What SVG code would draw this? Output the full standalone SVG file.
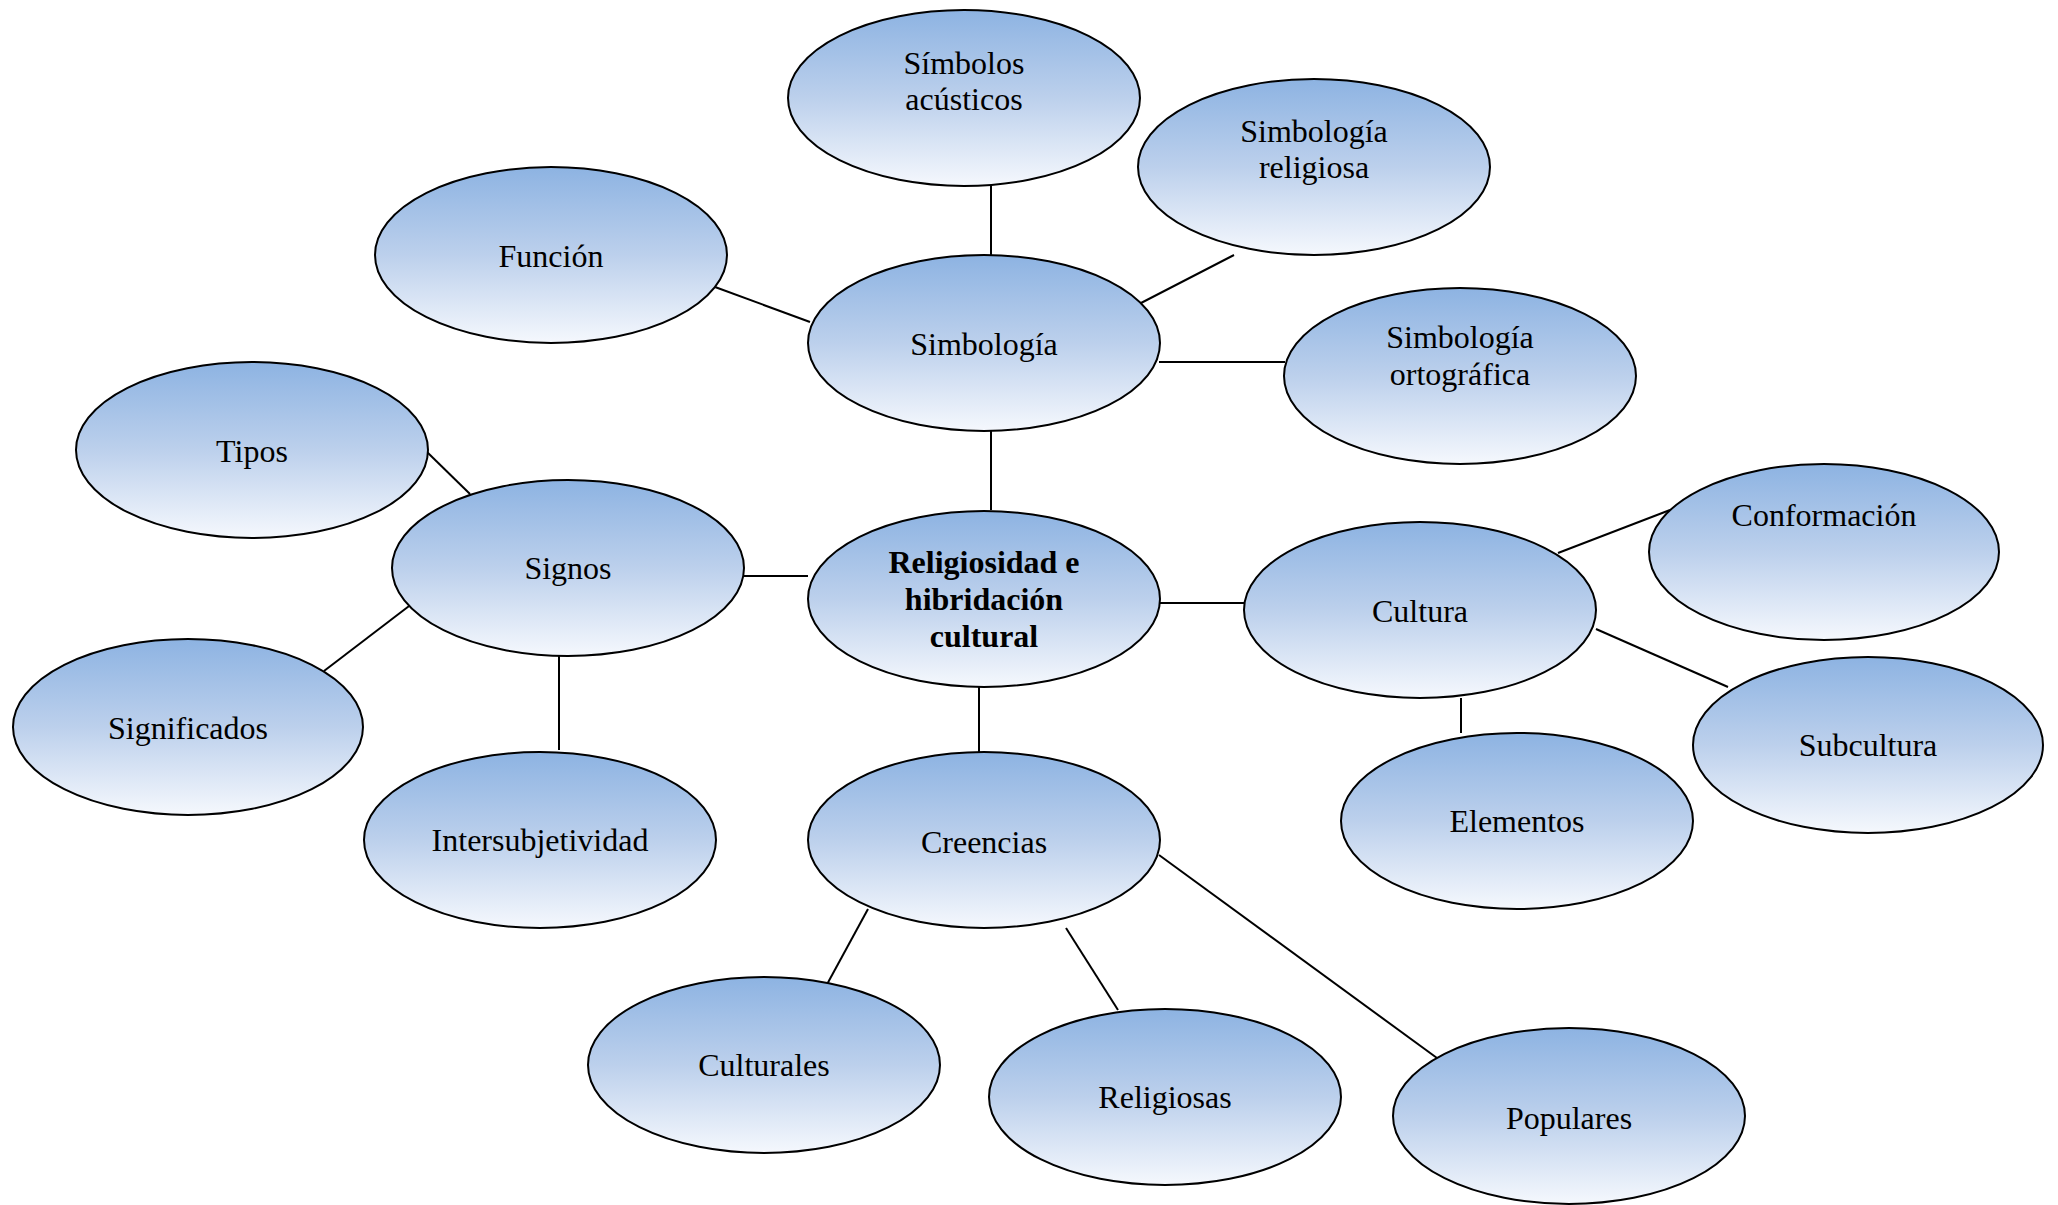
<svg xmlns="http://www.w3.org/2000/svg" width="2058" height="1205" viewBox="0 0 2058 1205">
<defs>
<linearGradient id="g" x1="0" y1="0" x2="0" y2="1">
<stop offset="0" stop-color="#8DB3E2"/>
<stop offset="0.5" stop-color="#BCD0EC"/>
<stop offset="1" stop-color="#F5F8FD"/>
</linearGradient>
</defs>
<style>
.n ellipse{fill:url(#g);stroke:#000;stroke-width:2}
.n text{font-family:"Liberation Serif","Times New Roman",serif;font-size:32px;fill:#000;text-anchor:middle}
.n text.b{font-weight:bold}
#connectors line{stroke:#000;stroke-width:2}
</style>
<rect width="2058" height="1205" fill="#fff"/>
<g id="connectors">
<line x1="991" y1="186" x2="991" y2="255"/>
<line x1="1234" y1="255" x2="1141" y2="303"/>
<line x1="715" y1="287" x2="810" y2="322"/>
<line x1="1159" y1="362" x2="1285" y2="362"/>
<line x1="991" y1="431" x2="991" y2="510"/>
<line x1="427" y1="452" x2="470" y2="494"/>
<line x1="744" y1="576" x2="808" y2="576"/>
<line x1="413" y1="603" x2="324" y2="671"/>
<line x1="559" y1="656" x2="559" y2="750"/>
<line x1="979" y1="687" x2="979" y2="752"/>
<line x1="1160" y1="603" x2="1244" y2="603"/>
<line x1="1558" y1="553" x2="1670" y2="510"/>
<line x1="1596" y1="629" x2="1728" y2="687"/>
<line x1="1461" y1="698" x2="1461" y2="733"/>
<line x1="868" y1="909" x2="825" y2="988"/>
<line x1="1066" y1="928" x2="1118" y2="1010"/>
<line x1="1159" y1="855" x2="1437" y2="1058"/>
</g>
<g id="simbolos-acusticos" class="n"><ellipse cx="964" cy="98" rx="176" ry="88"/><text x="964" y="74">Símbolos</text><text x="964" y="110">acústicos</text></g>
<g id="simbologia-religiosa" class="n"><ellipse cx="1314" cy="167" rx="176" ry="88"/><text x="1314" y="142">Simbología</text><text x="1314" y="178">religiosa</text></g>
<g id="funcion" class="n"><ellipse cx="551" cy="255" rx="176" ry="88"/><text x="551" y="267">Función</text></g>
<g id="simbologia" class="n"><ellipse cx="984" cy="343" rx="176" ry="88"/><text x="984" y="355">Simbología</text></g>
<g id="simbologia-ortografica" class="n"><ellipse cx="1460" cy="376" rx="176" ry="88"/><text x="1460" y="348">Simbología</text><text x="1460" y="385">ortográfica</text></g>
<g id="tipos" class="n"><ellipse cx="252" cy="450" rx="176" ry="88"/><text x="252" y="462">Tipos</text></g>
<g id="signos" class="n"><ellipse cx="568" cy="568" rx="176" ry="88"/><text x="568" y="579">Signos</text></g>
<g id="religiosidad" class="n"><ellipse cx="984" cy="599" rx="176" ry="88"/><text class="b" x="984" y="573">Religiosidad e</text><text class="b" x="984" y="610">hibridación</text><text class="b" x="984" y="647">cultural</text></g>
<g id="cultura" class="n"><ellipse cx="1420" cy="610" rx="176" ry="88"/><text x="1420" y="622">Cultura</text></g>
<g id="conformacion" class="n"><ellipse cx="1824" cy="552" rx="175" ry="88"/><text x="1824" y="526">Conformación</text></g>
<g id="subcultura" class="n"><ellipse cx="1868" cy="745" rx="175" ry="88"/><text x="1868" y="756">Subcultura</text></g>
<g id="significados" class="n"><ellipse cx="188" cy="727" rx="175" ry="88"/><text x="188" y="739">Significados</text></g>
<g id="intersubjetividad" class="n"><ellipse cx="540" cy="840" rx="176" ry="88"/><text x="540" y="851">Intersubjetividad</text></g>
<g id="creencias" class="n"><ellipse cx="984" cy="840" rx="176" ry="88"/><text x="984" y="853">Creencias</text></g>
<g id="elementos" class="n"><ellipse cx="1517" cy="821" rx="176" ry="88"/><text x="1517" y="832">Elementos</text></g>
<g id="culturales" class="n"><ellipse cx="764" cy="1065" rx="176" ry="88"/><text x="764" y="1076">Culturales</text></g>
<g id="religiosas" class="n"><ellipse cx="1165" cy="1097" rx="176" ry="88"/><text x="1165" y="1108">Religiosas</text></g>
<g id="populares" class="n"><ellipse cx="1569" cy="1116" rx="176" ry="88"/><text x="1569" y="1129">Populares</text></g>
</svg>
